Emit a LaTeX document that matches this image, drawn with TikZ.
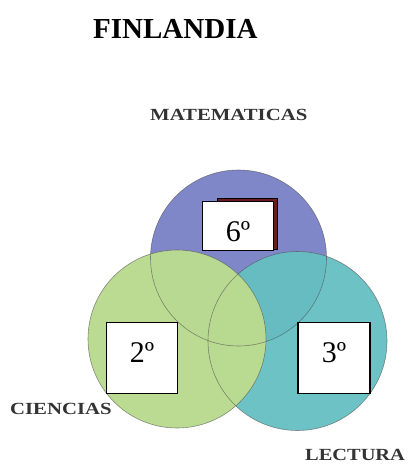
\documentclass[tikz,border=0pt]{standalone}
\usepackage{fontspec}
\usepackage{graphicx}
\setmainfont{Liberation Serif}
\usepackage{tikz}

\definecolor{matblue}{HTML}{8087C8}
\definecolor{cienciagreen}{HTML}{BADB90}
\definecolor{lectteal}{HTML}{66BFC2}
\definecolor{darkmaroon}{HTML}{6A1A22}

\tikzset{
  puesto/.style={draw=black, line width=1.6pt, fill=white, inner sep=0pt,
    font=\fontsize{30}{36}\selectfont},
  area/.style={inner sep=0pt, anchor=base west, text=black!80,
    font=\fontsize{17}{20}\selectfont\bfseries},
  borde/.style={draw=black!70, line width=0.6pt, opacity=0.6}
}

\begin{document}
\begin{tikzpicture}[x=1pt,y=-1pt]
\useasboundingbox (0,0) rectangle (410,465);
\fill[white] (0,0) rectangle (410,465);

% title
\node[inner sep=0pt, anchor=base west, font=\fontsize{29}{34}\selectfont\bfseries]
  (titulo) at (93,39) {FINLANDIA};

% circles
\fill[matblue] (238.5,258) circle (88);
\fill[lectteal, opacity=0.95] (297.5,341) circle (89.5);
\fill[cienciagreen, opacity=0.98] (177,339) circle (89);
\draw[borde] (238.5,258) circle (88);
\draw[borde] (297.5,341) circle (89.5);
\draw[borde] (177,339) circle (89);

% labels
\node[area] (mat) at (150,121) {\scalebox{1.22}[1]{MATEMATICAS}};
\node[area] (cie) at (10,414) {\scalebox{1.22}[1]{CIENCIAS}};
\node[area] (lec) at (305,460) {\scalebox{1.2}[1]{LECTURA}};

% boxes
\node[draw=black, fill=darkmaroon, line width=0.8pt, minimum width=60pt,
  minimum height=51pt] (sombra) at (247.5,224) {};
\node[puesto, minimum width=71pt, minimum height=49pt, text height=32pt]
  (seis) at (238,226) {6º};
\node[puesto, minimum width=71pt, minimum height=71pt, text height=20pt,
  text depth=12pt] (dos) at (142,358) {2º};
\node[puesto, minimum width=72pt, minimum height=71pt, text height=20pt,
  text depth=12pt] (tres) at (334,358) {3º};
\end{tikzpicture}
\end{document}
